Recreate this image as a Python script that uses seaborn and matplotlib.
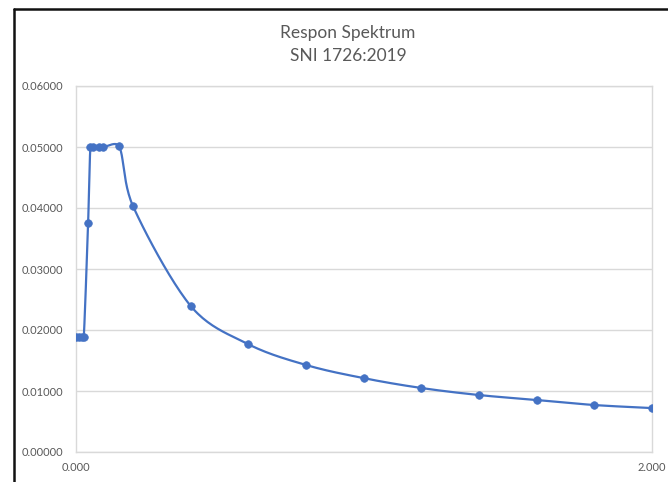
import numpy as np
import pandas as pd
import matplotlib
matplotlib.use("Agg")
import matplotlib.pyplot as plt
import seaborn as sns
from matplotlib.lines import Line2D

# Data
period = [0.000, 0.010, 0.020, 0.027, 0.042, 0.050, 0.060, 0.080, 0.095, 0.150,
          0.198, 0.399, 0.597, 0.799, 1.000, 1.198, 1.399, 1.600, 1.800, 2.000]
sa = [0.0188, 0.0188, 0.0188, 0.0188, 0.0375, 0.0500, 0.0500, 0.0500, 0.0500, 0.0501,
      0.0403, 0.0239, 0.0177, 0.01426, 0.0121, 0.0105, 0.00934, 0.00852, 0.0077, 0.0072]
y_ticks = [0.0, 0.01, 0.02, 0.03, 0.04, 0.05, 0.06]
x_ticks = [0.0, 2.0]
title_lines = ["Respon Spektrum", "SNI 1726:2019"]

df = pd.DataFrame({"T": period, "Sa": sa})

sns.set_theme(style="white")
plt.rcParams["font.family"] = ["Lato", "DejaVu Sans"]

fig = plt.figure(figsize=(6.68, 4.82), dpi=100)
ax = fig.add_axes([76 / 668, 1 - 452 / 482, 576 / 668, 366 / 482])

blue = "#4472C4"
gray_txt = "#595959"


def _limit(v, seglen, frac=0.4):
    n = np.hypot(*v)
    lim = frac * seglen
    return v if n <= lim or n == 0 else v * (lim / n)


def smooth_path(xs, ys, sx, sy, n=24):
    """Excel-like smoothed line through the data points (Bezier tangents, clamped)."""
    P = np.column_stack([np.asarray(xs) * sx, np.asarray(ys) * sy])
    out = []
    m = len(P)
    for i in range(m - 1):
        p0 = P[i - 1] if i > 0 else P[i]
        p1 = P[i]
        p2 = P[i + 1]
        p3 = P[i + 2] if i + 2 < m else P[i + 1]
        seg_len = np.hypot(*(p2 - p1))
        c1 = p1 + _limit((p2 - p0) / 6.0, seg_len)
        c2 = p2 - _limit((p3 - p1) / 6.0, seg_len)
        t = np.linspace(0, 1, n)[:, None]
        seg = ((1 - t) ** 3) * p1 + 3 * ((1 - t) ** 2) * t * c1 + 3 * (1 - t) * t ** 2 * c2 + t ** 3 * p2
        out.append(seg if i == 0 else seg[1:])
    Q = np.vstack(out)
    return Q[:, 0] / sx, Q[:, 1] / sy


sxp, syp = 576 / 2.0, 366 / 0.06
cx, cy = smooth_path(df["T"], df["Sa"], sxp, syp)
ax.plot(cx, cy, color=blue, lw=1.6, zorder=3, solid_capstyle="round", solid_joinstyle="round")
sns.scatterplot(data=df, x="T", y="Sa", ax=ax, color=blue, s=30, edgecolor=blue,
                linewidth=0.5, zorder=4, legend=False)

ax.set_xlim(0, 2.0)
ax.set_ylim(0, 0.06)
ax.set_yticks(y_ticks)
ax.set_xticks(x_ticks)
ax.set_yticklabels([f"{v:.5f}" for v in y_ticks])
ax.set_xticklabels([f"{v:.3f}" for v in x_ticks])
ax.tick_params(axis="both", length=0, labelsize=8, labelcolor=gray_txt)
ax.tick_params(axis="y", pad=9)
ax.tick_params(axis="x", pad=7)
ax.set_xlabel("")
ax.set_ylabel("")
ax.grid(axis="y", color="#D9D9D9", lw=1)
ax.grid(axis="x", visible=False)
for sp in ax.spines.values():
    sp.set_color("#D9D9D9")
    sp.set_linewidth(1)
ax.set_axisbelow(True)

fig.text(348 / 668, 1 - 33 / 482, title_lines[0], ha="center", va="center",
         fontsize=12.5, color=gray_txt)
fig.text(348 / 668, 1 - 56 / 482, title_lines[1], ha="center", va="center",
         fontsize=12.5, color=gray_txt)

# outer frame (top and left borders)
fig.add_artist(Line2D([14 / 668, 1.0], [1 - 9 / 482, 1 - 9 / 482], color="#111111", lw=1.8,
                      transform=fig.transFigure))
fig.add_artist(Line2D([14 / 668, 14 / 668], [0.0, 1 - 9 / 482], color="#111111", lw=1.8,
                      transform=fig.transFigure))

fig.savefig("out.png", dpi=100)
